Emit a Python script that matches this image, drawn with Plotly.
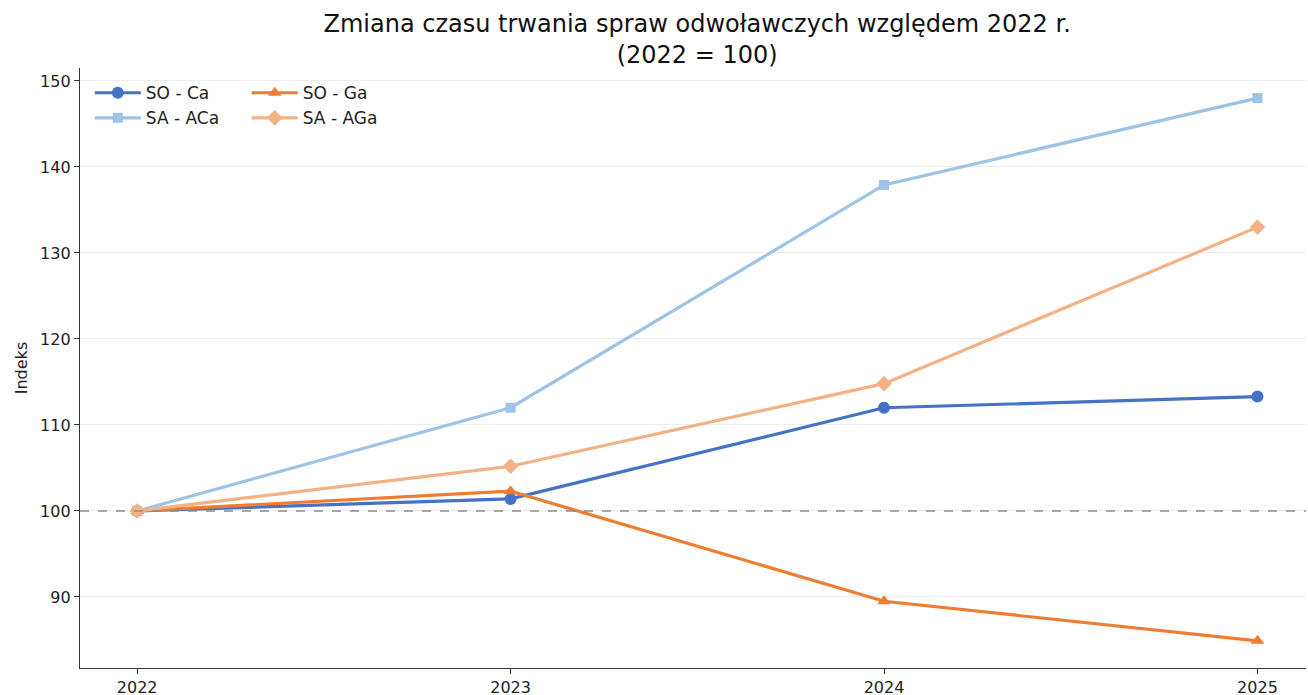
import plotly.graph_objects as go

years = [2022, 2023, 2024, 2025]
so_ca = [100, 101.4, 112.0, 113.3]
sa_aca = [100, 112.0, 137.9, 148.0]
so_ga = [100, 102.3, 89.5, 84.9]
sa_aga = [100, 105.2, 114.8, 133.0]

series = [
    ("SO - Ca", so_ca, "#4472C4", "circle", 12, "legend"),
    ("SA - ACa", sa_aca, "#9DC3E6", "square", 10, "legend"),
    ("SO - Ga", so_ga, "#ED7D31", "triangle-up", 12, "legend2"),
    ("SA - AGa", sa_aga, "#F4B183", "diamond", 12, "legend2"),
]

fig = go.Figure()
for name, vals, color, sym, msize, leg in series:
    fig.add_trace(go.Scatter(
        x=years, y=vals, name=name, mode="lines+markers",
        line=dict(color=color, width=3.2),
        marker=dict(color=color, symbol=sym, size=msize),
        legend=leg,
    ))

fig.add_hline(y=100, line=dict(color="#8c8c8c", width=1.4, dash="dash"), layer="above")

font = "DejaVu Sans, Arial, sans-serif"
legend_common = dict(bgcolor="rgba(255,255,255,0)", font=dict(size=17, family=font, color="#222"),
                     orientation="v", xanchor="left", yanchor="top", tracegroupgap=0,
                     itemwidth=46)
fig.update_layout(
    width=1308, height=695,
    paper_bgcolor="white", plot_bgcolor="white",
    margin=dict(l=80, r=2, t=68, b=27),
    font=dict(family=font, size=16, color="#222"),
    title=dict(text="Zmiana czasu trwania spraw odwoławczych względem 2022 r.<br>(2022 = 100)",
               x=0.533, xanchor="center", y=0.954, yanchor="middle",
               font=dict(size=24, family=font, color="#111")),
    legend=dict(x=0.008, y=0.988, **legend_common),
    legend2=dict(x=0.136, y=0.988, **legend_common),
    xaxis=dict(range=[2021.847, 2025.13], tickvals=years, ticktext=[str(y) for y in years],
               showgrid=False, zeroline=False, showline=True, linecolor="#333", linewidth=1.3,
               ticks="outside", ticklen=5, tickcolor="#333", automargin=False,
               tickfont=dict(size=16, family=font, color="#222")),
    yaxis=dict(range=[81.74, 151.5], tickvals=[90, 100, 110, 120, 130, 140, 150],
               showgrid=True, gridcolor="#ececec", gridwidth=1, zeroline=False,
               showline=True, linecolor="#333", linewidth=1.3, automargin=False,
               ticks="outside", ticklen=5, tickcolor="#333",
               title=dict(text="Indeks", font=dict(size=16, family=font, color="#222"), standoff=8),
               tickfont=dict(size=16, family=font, color="#222")),
    showlegend=True,
)

fig.write_html("out.html", config={"displayModeBar": False},
               post_script="document.body.style.margin='0';document.body.style.overflow='hidden';")
